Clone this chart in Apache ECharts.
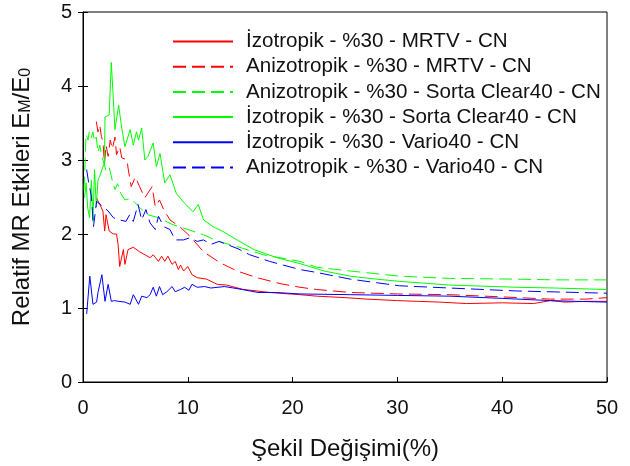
<!DOCTYPE html>
<html><head><meta charset="utf-8">
<script src="https://cdn.jsdelivr.net/npm/echarts@6/dist/echarts.min.js"></script>
<style>html,body{margin:0;padding:0;background:#fff}#c{width:630px;height:466px}</style>
</head><body><div id="c"></div>
<script>
var seriesNames = [
  'İzotropik - %30 - MRTV - CN',
  'Anizotropik - %30 - MRTV - CN',
  'Anizotropik - %30 - Sorta Clear40 - CN',
  'İzotropik - %30 - Sorta Clear40 - CN',
  'İzotropik - %30 - Vario40 - CN',
  'Anizotropik - %30 - Vario40 - CN'
];
var xTicks = [0,10,20,30,40,50];
var yTicks = [0,1,2,3,4,5];

var isoMrtvX = [1.27,1.6,1.9,2.07,2.2,2.35,2.5,2.9,3.2,3.35,3.5,3.85,4.0,4.3,4.8,5.4,6.4,6.7,7.2,7.5,7.8,8.1,8.5,8.8,9.1,9.3,9.6,10.0,10.4,10.9,11.8,12.8,13.7,15.3,16.6,17.8,20.7,22.3,25,27.1,30,31.9,34,36.6,40,43,44.6,46,48,50];
var isoMrtvY = [2.49,2.40,2.31,2.04,2.26,2.15,2.04,2.0,2.0,1.86,1.56,1.79,1.59,1.79,1.82,1.76,1.68,1.72,1.63,1.70,1.63,1.70,1.59,1.63,1.52,1.58,1.50,1.56,1.45,1.41,1.39,1.32,1.31,1.25,1.23,1.21,1.18,1.16,1.14,1.12,1.10,1.09,1.08,1.06,1.07,1.06,1.10,1.08,1.09,1.09];

var aniMrtvX = [1.27,1.43,1.6,1.75,1.9,2.05,2.2,2.4,2.6,2.8,3.05,3.2,3.5,3.7,4.2,4.3,4.6,5.0,5.4,5.9,6.6,6.9,7.3,7.7,8.3,9.3,10.2,11.5,13.1,14.7,16.6,18.8,20.7,22.3,25.5,30,35,40,44.6,48,50];
var aniMrtvY = [3.52,3.38,3.47,3.32,3.25,2.95,3.2,3.05,3.27,3.15,3.31,3.07,3.18,3.03,3.0,2.89,2.64,2.77,2.64,2.49,2.64,2.37,2.46,2.33,2.19,2.09,1.97,1.76,1.61,1.50,1.41,1.33,1.28,1.25,1.21,1.19,1.18,1.15,1.12,1.12,1.14];

var aniSortaX = [0.1,0.3,0.48,0.6,0.78,0.95,1.1,1.27,1.43,1.6,1.8,2.0,2.2,2.5,2.8,3.05,3.3,3.6,4.0,4.5,5.0,5.6,6.2,7.2,8.5,9.6,11.5,12.9,14.7,17.2,20.7,22.3,25.5,30.2,35,41.4,45,50];
var aniSortaY = [2.6,3.35,3.27,3.38,3.30,3.38,3.25,3.31,3.10,3.20,3.05,2.96,2.85,2.90,2.72,2.60,2.68,2.55,2.46,2.48,2.42,2.33,2.26,2.22,2.13,2.08,1.99,1.90,1.83,1.72,1.63,1.55,1.50,1.43,1.40,1.39,1.38,1.38];

var isoSortaX = [0.15,0.3,0.45,0.63,0.8,0.95,1.1,1.27,1.43,1.6,1.8,2.05,2.1,2.5,2.7,2.85,3.05,3.4,3.7,4.0,4.5,4.8,5.1,5.3,5.6,5.9,6.2,6.7,7.0,7.35,7.8,8.3,8.9,9.6,10.5,11.0,11.5,12.4,13.4,14.7,16.3,18.5,20.7,23,25.5,28,30.2,35,41.4,45,50];
var isoSortaY = [2.49,2.69,2.35,2.22,2.73,2.17,2.87,2.37,2.73,2.78,2.87,2.96,3.58,3.61,4.32,3.94,3.41,3.74,3.43,3.18,3.41,3.20,3.38,3.27,3.43,3.0,3.05,3.23,2.91,3.09,2.69,2.80,2.55,2.43,2.30,2.40,2.19,2.10,2.03,1.92,1.79,1.68,1.60,1.50,1.43,1.39,1.36,1.31,1.28,1.27,1.25];

var isoVarioX = [0.35,0.65,0.95,1.3,1.43,1.8,2.1,2.4,2.7,3.0,3.4,4.0,4.5,4.8,5.3,5.6,6.1,6.4,6.7,7.0,7.3,7.6,8.0,8.5,8.8,9.3,9.7,10.1,10.4,10.9,11.6,12.2,13.5,15.2,16.7,18.3,20.7,25.5,30,35,40,44.6,47,50];
var isoVarioY = [0.92,1.43,1.05,1.08,1.21,1.45,1.09,1.32,1.09,1.10,1.09,1.08,1.05,1.18,1.05,1.16,1.14,1.18,1.28,1.16,1.29,1.18,1.22,1.29,1.22,1.25,1.28,1.24,1.32,1.28,1.29,1.27,1.29,1.25,1.21,1.21,1.19,1.18,1.17,1.16,1.13,1.10,1.09,1.08];

var aniVarioX = [0.35,0.5,0.8,1.0,1.3,1.43,1.9,2.4,2.9,3.5,4.1,4.45,4.8,5.25,5.6,6.0,6.4,6.9,7.2,7.7,8.3,8.8,9.6,10.2,10.9,11.5,12.2,13.0,13.7,14.8,15.9,17.8,19.1,20.7,22.3,25.5,30.2,35,41.4,50];
var aniVarioY = [2.87,2.73,2.51,2.10,2.44,2.46,2.37,2.31,2.22,2.19,2.17,2.26,2.17,2.40,2.19,2.33,2.15,2.06,2.24,2.10,2.06,1.92,1.92,1.95,1.90,1.92,1.86,1.90,1.86,1.80,1.72,1.63,1.58,1.52,1.48,1.39,1.30,1.27,1.23,1.20];

function pairs(xs, ys){ return xs.map(function(x,i){ return [x, ys[i]]; }); }

var lineDefs = [
  {x: isoMrtvX, y: isoMrtvY, color: '#ff0000', dashed: false},
  {x: aniMrtvX, y: aniMrtvY, color: '#ff0000', dashed: true},
  {x: aniSortaX, y: aniSortaY, color: '#00ff00', dashed: true},
  {x: isoSortaX, y: isoSortaY, color: '#00ff00', dashed: false},
  {x: isoVarioX, y: isoVarioY, color: '#0000ff', dashed: false},
  {x: aniVarioX, y: aniVarioY, color: '#0000ff', dashed: true}
];

var font = 'Liberation Sans, Arial, sans-serif';
var chart = echarts.init(document.getElementById('c'), null, {renderer: 'canvas'});
chart.setOption({
  animation: false,
  backgroundColor: '#fff',
  grid: {left: 83, right: 23, top: 12, bottom: 83, show: true, borderColor: '#000', borderWidth: 1},
  legend: {
    orient: 'vertical', left: 172, top: 31, padding: 0, itemWidth: 60, itemHeight: 10, itemGap: 4.2,
    itemStyle: {opacity: 0},
    textStyle: {fontFamily: font, fontSize: 20.6, color: '#111', padding: [0,0,0,8]},
    data: seriesNames
  },
  xAxis: {
    type: 'value', min: xTicks[0], max: xTicks[xTicks.length-1], interval: 10,
    name: 'Şekil Değişimi(%)', nameLocation: 'middle', nameGap: 55,
    nameTextStyle: {fontFamily: font, fontSize: 24, color: '#111'},
    axisLine: {lineStyle: {color: '#000', width: 1}},
    axisTick: {inside: true, length: 5, lineStyle: {color: '#000'}},
    axisLabel: {fontFamily: font, fontSize: 20, color: '#111', margin: 16},
    splitLine: {show: false}
  },
  yAxis: [{
    type: 'value', min: yTicks[0], max: yTicks[yTicks.length-1], interval: 1,
    name: 'Relatif MR Etkileri E{s|M}/E{s|0}', nameLocation: 'middle', nameGap: 49, nameRotate: 90,
    nameTextStyle: {fontFamily: font, fontSize: 24, color: '#111',
      rich: {s: {fontFamily: font, fontSize: 16, color: '#111', padding: [7,0,0,0]}}},
    axisLine: {lineStyle: {color: '#000', width: 1}},
    axisTick: {inside: false, length: 5, lineStyle: {color: '#000'}},
    axisLabel: {fontFamily: font, fontSize: 20, color: '#111', margin: 11},
    splitLine: {show: false}
  }, {
    type: 'value', min: 0, max: 5, interval: 1, position: 'left',
    axisLine: {show: false},
    axisTick: {inside: true, length: 5, lineStyle: {color: '#000'}},
    axisLabel: {show: false}, splitLine: {show: false}
  }],
  series: lineDefs.map(function(d, i){
    return {
      name: seriesNames[i], type: 'line', symbol: 'none', yAxisIndex: 0,
      data: pairs(d.x, d.y),
      lineStyle: {color: d.color, width: 1, type: d.dashed ? [13,6] : 'solid'},
      itemStyle: {color: d.color}
    };
  })
});
</script></body></html>
